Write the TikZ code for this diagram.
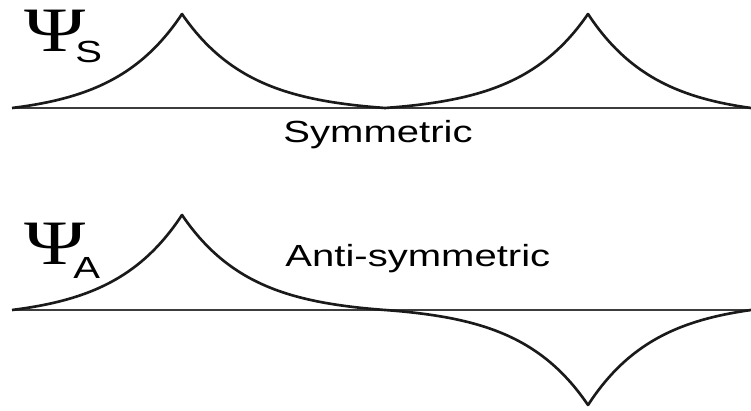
\documentclass[tikz,border=0pt]{standalone}
\usepackage{fontspec}
\setmainfont{Liberation Sans}
\newfontfamily\psifont{Liberation Serif}
\usetikzlibrary{positioning}
\definecolor{curve}{HTML}{1A1A1A}
\definecolor{axisgray}{HTML}{3C3C3C}

\begin{document}
\begin{tikzpicture}[x=0.02cm, y=-0.02cm,
 wave/.style={draw=curve, line width=1.5pt, line join=round},
 axisline/.style={draw=axisgray, line width=1.1pt},
 lbl/.style={font=\fontsize{17.4}{20}\selectfont, inner sep=0pt, anchor=base west, xscale=1.31},
 psi/.style={font=\psifont\fontsize{36}{40}\selectfont, inner sep=0pt, anchor=base west, xscale=1.31},
 declare function={cusp(\dist,\reach)=(exp(-\dist/68)-exp(-\reach/68))/(1-exp(-\reach/68));},
]
 \useasboundingbox (0,0) rectangle (751,411);

 % symmetric combination
 \draw[axisline] (12,108) -- (751,108);
 \draw[wave] plot[domain=12:182, samples=60] (\x, {108-94*cusp(182-\x,170)})
   -- plot[domain=182:385, samples=60] (\x, {108-94*cusp(\x-182,203)})
   -- plot[domain=385:588, samples=60] (\x, {108-94*cusp(588-\x,203)})
   -- plot[domain=588:751, samples=60] (\x, {108-94*cusp(\x-588,163)});
 \node[psi] (psiS) at (24,52) {Ψ};
 \node[lbl] (subS) at (75,63) {S};
 \node[lbl] (symm) at (283,143) {Symmetric};

 % anti-symmetric combination
 \draw[axisline] (12,310) -- (751,310);
 \draw[wave] plot[domain=12:182, samples=60] (\x, {310-95*cusp(182-\x,170)})
   -- plot[domain=182:385, samples=60] (\x, {310-95*cusp(\x-182,203)})
   -- plot[domain=385:588, samples=60] (\x, {310+95*cusp(588-\x,203)})
   -- plot[domain=588:751, samples=60] (\x, {310+95*cusp(\x-588,163)});
 \node[psi] (psiA) at (24,265) {Ψ};
 \node[lbl] (subA) at (73,279) {A};
 \node[lbl] (anti) at (285,267) {Anti-symmetric};
\end{tikzpicture}
\end{document}
